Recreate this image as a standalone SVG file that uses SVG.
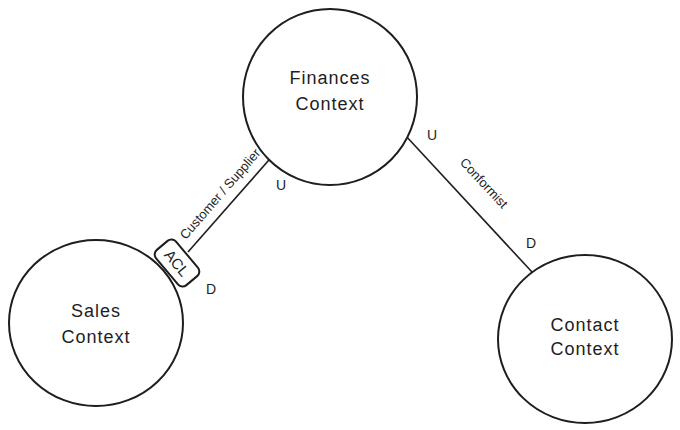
<svg xmlns="http://www.w3.org/2000/svg" width="680" height="430" viewBox="0 0 680 430">
<style>
.node{fill:#fff;stroke:#1e1e1e;stroke-width:2}
.conn{stroke:#1e1e1e;stroke-width:1.6;fill:none}
.lbl{font-family:"Liberation Sans",Arial,sans-serif;font-size:18px;fill:#1e1e1e;text-anchor:middle;dominant-baseline:central;letter-spacing:1px}
.small{font-family:"Liberation Sans",Arial,sans-serif;font-size:13px;fill:#1e1e1e;text-anchor:middle;dominant-baseline:central}
.ud{font-family:"Liberation Sans",Arial,sans-serif;font-size:14px;fill:#1e1e1e;text-anchor:middle;dominant-baseline:central}
</style>
<rect width="680" height="430" fill="#fff"/>
<g id="connectors">
<line class="conn" x1="276" y1="152" x2="188" y2="252"/>
<line class="conn" x1="405" y1="135" x2="532" y2="272"/>
<text class="small" transform="translate(220,194) rotate(-49)">Customer / Supplier</text>
<text class="small" transform="translate(484,183) rotate(47)">Conformist</text>
<text class="ud" x="281" y="185">U</text>
<text class="ud" x="211" y="289">D</text>
<text class="ud" x="432" y="135">U</text>
<text class="ud" x="531" y="243">D</text>
</g>
<g id="finances">
<ellipse class="node" cx="330" cy="97" rx="87" ry="88"/>
<text class="lbl" x="330" y="78">Finances</text>
<text class="lbl" x="330" y="104">Context</text>
</g>
<g id="sales">
<ellipse class="node" cx="96" cy="323" rx="87" ry="83"/>
<text class="lbl" x="96" y="311">Sales</text>
<text class="lbl" x="96" y="337">Context</text>
</g>
<g id="contact">
<ellipse class="node" cx="585" cy="339" rx="87" ry="84"/>
<text class="lbl" x="585" y="325">Contact</text>
<text class="lbl" x="585" y="349">Context</text>
</g>
<g id="acl">
<rect class="node" x="-23" y="-13" width="46" height="26" rx="6" transform="translate(177,263) rotate(50)"/>
<text class="small" style="font-size:15px" transform="translate(177,263) rotate(50)">ACL</text>
</g>
</svg>
